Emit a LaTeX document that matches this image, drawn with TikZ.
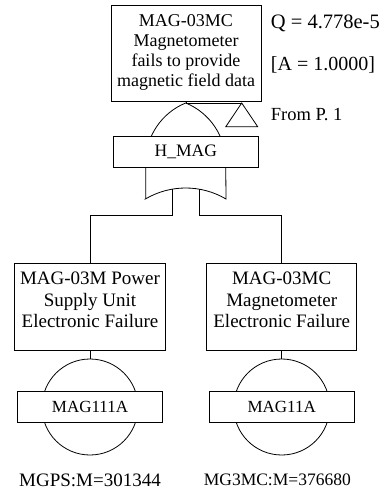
\documentclass[tikz,border=0pt]{standalone}
\usepackage{fontspec}
\setmainfont{Liberation Serif}
\begin{document}
\begin{tikzpicture}[x=1pt,y=1pt,line width=0.8pt,
  box/.style={draw, fill=white, inner sep=0pt},
  evbox/.style={box, minimum width=150pt, minimum height=87.7pt},
  labbox/.style={box, minimum width=145pt, minimum height=31pt, font=\fontsize{17}{19}\selectfont},
  evtxt/.style={align=center, inner sep=0pt, font=\fontsize{19}{21.7}\selectfont},
  toptxt/.style={align=center, inner sep=0pt, font=\fontsize{18}{19.8}\selectfont},
  sidetxt/.style={anchor=west, inner sep=0pt},
  basic/.style={circle, draw, minimum size=96pt, inner sep=0pt},
  idtxt/.style={inner sep=0pt}]
\useasboundingbox (0,0) rectangle (384,-491);

% top event
\node[box, minimum width=150pt, minimum height=96pt] (top) at (186,-53) {};
\node[toptxt] (toptext) at (186,-52.5) {MAG-03MC\\Magnetometer\\fails to provide\\magnetic field data};
\node[sidetxt, font=\fontsize{20.5}{22}\selectfont] (q) at (270.5,-23.3) {Q = 4.778e-5};
\node[sidetxt, font=\fontsize{20}{22}\selectfont] (a) at (270.5,-65) {[A = 1.0000]};
\node[sidetxt, font=\fontsize{18.5}{20}\selectfont] (from) at (270.5,-115) {From P. 1};

% gate (OR)
\coordinate (gtop) at (186,-103);
\coordinate (tri) at (241.7,-103);
\draw (top.south) -- (gtop) -- (tri);
\draw (tri) -- (225.8,-126.7) -- (257.7,-126.7) -- cycle;
\draw (145.7,-199) -- (145.7,-162.5)
  arc[start angle=180, end angle=112.2, radius=64.3]
  arc[start angle=67.8, end angle=0, radius=64.3]
  -- (226,-199)
  arc[start angle=59.45, end angle=120.55, radius=79.3] -- cycle;
\node[box, minimum width=145pt, minimum height=30.6pt, font=\fontsize{17.5}{19}\selectfont] (hmag) at (185.8,-152) {H\_MAG};

% gate outputs
\coordinate (oL) at (172.7,-189.1);
\coordinate (oR) at (199.3,-189.1);

% left branch
\node[evbox, minimum width=151.4pt] (left) at (90,-307) {};
\node[evtxt] (lefttext) at (90,-300) {MAG-03M Power\\Supply Unit\\Electronic Failure};
\node[basic] (lc) at (90,-407) {};
\node[labbox] (lb) at (90,-407) {MAG111A};
\node[idtxt, font=\fontsize{19}{20}\selectfont] (lid) at (90,-480) {MGPS:M=301344};

% right branch
\node[evbox] (right) at (281.7,-307) {};
\node[evtxt] (righttext) at (281.7,-300) {MAG-03MC\\Magnetometer\\Electronic Failure};
\node[basic] (rc) at (281.7,-407) {};
\node[labbox] (rb) at (281.7,-407) {MAG11A};
\node[idtxt, font=\fontsize{17.5}{19}\selectfont] (rid) at (277.3,-480) {MG3MC:M=376680};

\draw (oL) -- ++(0,-25.9) -| (left.north);
\draw (oR) -- ++(0,-25.9) -| (right.north);
\draw (left.south) -- (lc.north);
\draw (right.south) -- (rc.north);
\end{tikzpicture}
\end{document}
